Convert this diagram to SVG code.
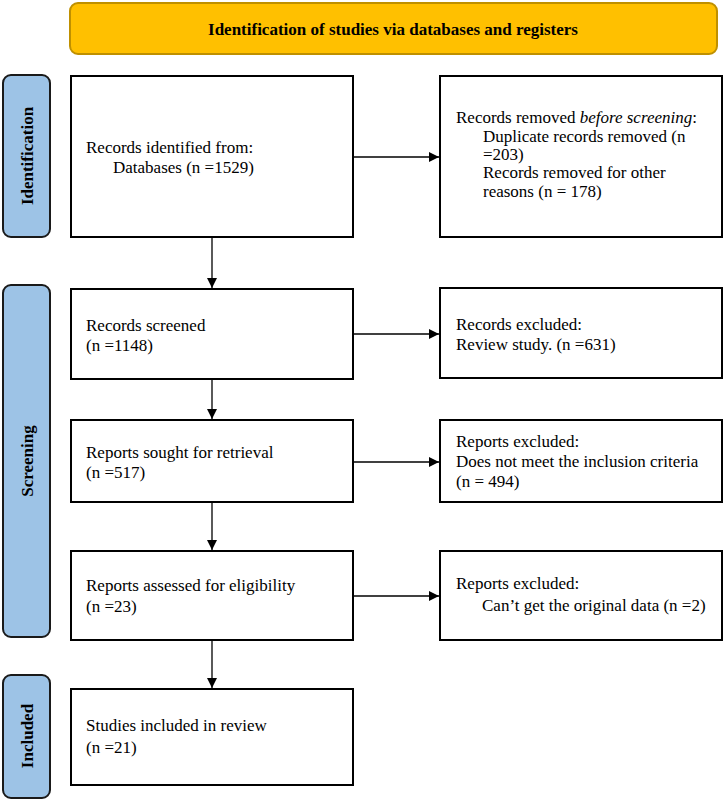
<svg xmlns="http://www.w3.org/2000/svg" width="724" height="801" viewBox="0 0 724 801">
<style>
.box{fill:#fff;stroke:#000;stroke-width:2}
.side{fill:#9DC3E6;stroke:#1a1a1a;stroke-width:2}
.t{font-family:"Liberation Serif","Times New Roman",serif;font-size:17px;fill:#000}
.b{font-family:"Liberation Serif","Times New Roman",serif;font-size:17px;font-weight:bold;fill:#000}
.ln{stroke:#000;stroke-width:1.3;fill:none}
</style>
<defs>
<marker id="ah" viewBox="0 0 10 10" refX="10" refY="5" markerWidth="10" markerHeight="10" markerUnits="userSpaceOnUse" orient="auto">
<path d="M0,0 L10,5 L0,10 Z" fill="#000"/>
</marker>
</defs>
<g id="banner">
<rect x="70" y="3" width="647" height="51" rx="8" fill="#FFC000" stroke="#BF9000" stroke-width="2"/>
<text class="b" x="393" y="35" text-anchor="middle">Identification of studies via databases and registers</text>
</g>
<g id="side-identification">
<rect class="side" x="3" y="75" width="47" height="162" rx="8"/>
<text class="b" transform="translate(33,156) rotate(-90)" text-anchor="middle">Identification</text>
</g>
<g id="side-screening">
<rect class="side" x="3" y="285" width="47" height="352" rx="8"/>
<text class="b" transform="translate(33,461) rotate(-90)" text-anchor="middle">Screening</text>
</g>
<g id="side-included">
<rect class="side" x="3" y="675" width="47" height="123" rx="8"/>
<text class="b" transform="translate(33,736) rotate(-90)" text-anchor="middle">Included</text>
</g>
<g id="identified">
<rect class="box" x="71" y="76" width="282" height="161"/>
<text class="t" x="86" y="153">Records identified from:</text>
<text class="t" x="113" y="173">Databases (n =1529)</text>
</g>
<g id="removed">
<rect class="box" x="440" y="76" width="282" height="161"/>
<text class="t" x="456" y="123">Records removed <tspan font-style="italic">before screening</tspan>:</text>
<text class="t" x="483" y="142">Duplicate records removed (n</text>
<text class="t" x="483" y="160">=203)</text>
<text class="t" x="483" y="178">Records removed for other</text>
<text class="t" x="483" y="197">reasons (n = 178)</text>
</g>
<g id="screened">
<rect class="box" x="71" y="289" width="282" height="90"/>
<text class="t" x="86" y="331">Records screened</text>
<text class="t" x="86" y="351">(n =1148)</text>
</g>
<g id="excluded1">
<rect class="box" x="440" y="288" width="282" height="90"/>
<text class="t" x="456" y="330">Records excluded:</text>
<text class="t" x="456" y="350">Review study. (n =631)</text>
</g>
<g id="sought">
<rect class="box" x="71" y="420" width="282" height="82"/>
<text class="t" x="86" y="458">Reports sought for retrieval</text>
<text class="t" x="86" y="478">(n =517)</text>
</g>
<g id="excluded2">
<rect class="box" x="440" y="420" width="282" height="82"/>
<text class="t" x="456" y="447">Reports excluded:</text>
<text class="t" x="456" y="467">Does not meet the inclusion criteria</text>
<text class="t" x="456" y="487">(n = 494)</text>
</g>
<g id="assessed">
<rect class="box" x="71" y="551" width="282" height="89"/>
<text class="t" x="86" y="591">Reports assessed for eligibility</text>
<text class="t" x="86" y="612">(n =23)</text>
</g>
<g id="excluded3">
<rect class="box" x="440" y="551" width="282" height="89"/>
<text class="t" x="456" y="589">Reports excluded:</text>
<text class="t" x="482" y="611">Can’t get the original data (n =2)</text>
</g>
<g id="included">
<rect class="box" x="71" y="689" width="282" height="96"/>
<text class="t" x="86" y="731">Studies included in review</text>
<text class="t" x="86" y="753">(n =21)</text>
</g>
<g id="connectors">
<line class="ln" x1="212" y1="237" x2="212" y2="288" marker-end="url(#ah)"/>
<line class="ln" x1="212" y1="379" x2="212" y2="419" marker-end="url(#ah)"/>
<line class="ln" x1="212" y1="502" x2="212" y2="550" marker-end="url(#ah)"/>
<line class="ln" x1="212" y1="640" x2="212" y2="688" marker-end="url(#ah)"/>
<line class="ln" x1="353" y1="157" x2="439" y2="157" marker-end="url(#ah)"/>
<line class="ln" x1="353" y1="334" x2="439" y2="334" marker-end="url(#ah)"/>
<line class="ln" x1="353" y1="462" x2="439" y2="462" marker-end="url(#ah)"/>
<line class="ln" x1="353" y1="596" x2="439" y2="596" marker-end="url(#ah)"/>
</g>
</svg>
